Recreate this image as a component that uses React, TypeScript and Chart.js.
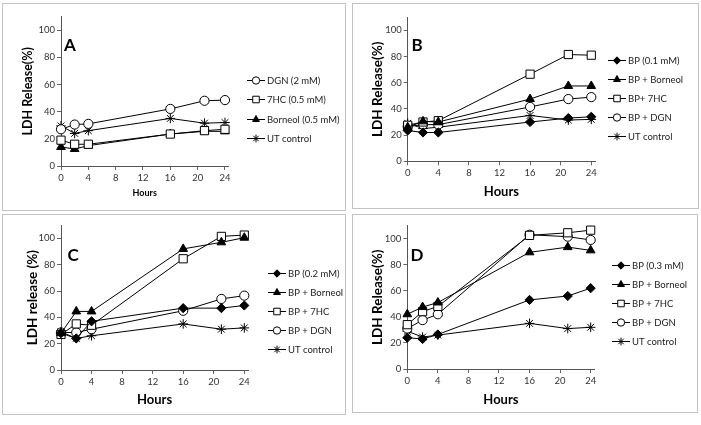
import React, { useEffect, useRef } from 'react';
import { Chart, registerables } from 'chart.js';
import { drawPoint } from 'chart.js/helpers';

Chart.register(...registerables);

const FONT = 'Lato, "Open Sans", sans-serif';

const hours = [0, 2, 4, 16, 21, 24];
const xTicks = [0, 4, 8, 12, 16, 20, 24];
const yTicks = [0, 20, 40, 60, 80, 100];

// Panel A
const aLabels = ['DGN (2 mM)', '7HC (0.5 mM)', 'Borneol (0.5 mM)', 'UT control'];
const aDGN = [27, 30.5, 31, 42, 48, 48.5];
const a7HC = [19, 16, 16, 23.5, 26, 27];
const aBorneol = [14, 12.5, 15, 23.5, 25.5, 25.5];
const aUT = [29.5, 24, 26, 35, 31.5, 32];

// Panel B
const bLabels = ['BP (0.1 mM)', 'BP + Borneol', 'BP+ 7HC', 'BP + DGN', 'UT control'];
const bBP = [23.5, 22, 22, 30, 33, 34];
const bBorneol = [26, 30.5, 30, 47.5, 57.5, 57.5];
const b7HC = [27.5, 30, 31, 66.5, 81.5, 81];
const bDGN = [26.5, 28, 28, 41.5, 47.5, 49];
const bUT = [29, 25, 26, 35, 31.5, 32];

// Panel C
const cLabels = ['BP (0.2 mM)', 'BP + Borneol', 'BP + 7HC', 'BP + DGN', 'UT control'];
const cBP = [28, 24, 37, 47, 47, 49];
const cBorneol = [28, 44.5, 44.5, 92, 97, 100.5];
const c7HC = [27, 35, 34, 84.5, 101.5, 102.5];
const cDGN = [28.5, 28.5, 31, 45, 54, 56.5];
const cUT = [29, 24, 26, 35, 31, 32];

// Panel D
const dLabels = ['BP (0.3 mM)', 'BP + Borneol', 'BP + 7HC', 'BP + DGN', 'UT control'];
const dBP = [24, 23, 26.5, 53, 56, 62];
const dBorneol = [42, 47.5, 51, 89.5, 93.5, 91];
const d7HC = [34, 44, 48, 102.5, 104.5, 106.5];
const dDGN = [31, 37.5, 42, 103, 101.5, 99];
const dUT = [29, 24.5, 26, 35, 31, 32];

type Marker = 'diamond' | 'triangle' | 'square' | 'circle' | 'star';

const markerStyle: Record<Marker, any> = {
  diamond: { pointStyle: 'rectRot', pointRadius: 4.6, bg: '#000' },
  triangle: { pointStyle: 'triangle', pointRadius: 5, bg: '#000' },
  square: { pointStyle: 'rect', pointRadius: 5.8, bg: '#fff' },
  circle: { pointStyle: 'circle', pointRadius: 4.6, bg: '#fff' },
  star: { pointStyle: 'star', pointRadius: 4.8, bg: '#000' },
};

interface PanelCfg {
  box: number[];
  area: number[];
  letter: string;
  letterPos: number[];
  yTitle: string;
  yTitleX: number;
  yTitleSize: number;
  xTitleY: number;
  xTitleSize: number;
  legendX: number;
  legendY0: number;
  legendStep: number;
  labels: string[];
  markers: Marker[];
  series: number[][];
}

const panels: PanelCfg[] = [
  {
    box: [3, 4, 345, 210], area: [61, 16.5, 228.4, 166], letter: 'A', letterPos: [70, 46],
    yTitle: 'LDH Release(%)', yTitleX: 28, yTitleSize: 12.5, xTitleY: 193, xTitleSize: 9,
    legendX: 247, legendY0: 80, legendStep: 19.3, labels: aLabels,
    markers: ['circle', 'square', 'triangle', 'star'], series: [aDGN, a7HC, aBorneol, aUT],
  },
  {
    box: [353, 4, 698, 208], area: [407.7, 17.2, 595.1, 161.3], letter: 'B', letterPos: [417, 46],
    yTitle: 'LDH Release(%)', yTitleX: 378, yTitleSize: 13.5, xTitleY: 191.7, xTitleSize: 13,
    legendX: 608, legendY0: 60.3, legendStep: 19, labels: bLabels,
    markers: ['diamond', 'triangle', 'square', 'circle', 'star'], series: [bBP, bBorneol, b7HC, bDGN, bUT],
  },
  {
    box: [3, 215, 345, 414], area: [61, 225.2, 248.1, 370], letter: 'C', letterPos: [73, 255.3],
    yTitle: 'LDH release (%)', yTitleX: 33, yTitleSize: 13.5, xTitleY: 399.7, xTitleSize: 13,
    legendX: 268, legendY0: 272.7, legendStep: 19, labels: cLabels,
    markers: ['diamond', 'triangle', 'square', 'circle', 'star'], series: [cBP, cBorneol, c7HC, cDGN, cUT],
  },
  {
    box: [353, 215, 697, 412], area: [407.3, 225.6, 594.5, 369], letter: 'D', letterPos: [417, 255.3],
    yTitle: 'LDH Release(%)', yTitleX: 378, yTitleSize: 13.5, xTitleY: 399.7, xTitleSize: 13,
    legendX: 612, legendY0: 265, legendStep: 18.9, labels: dLabels,
    markers: ['diamond', 'triangle', 'square', 'circle', 'star'], series: [dBP, dBorneol, d7HC, dDGN, dUT],
  },
];

function Panel({ cfg }: { cfg: PanelCfg }) {
  const ref = useRef<HTMLCanvasElement>(null);
  const [bl, bt, br, bb] = cfg.box;
  const [al, at, ar, ab] = cfg.area;
  const W = br - bl;
  const H = bb - bt;

  useEffect(() => {
    const datasets = cfg.series.map((vals, i) => {
      const m = markerStyle[cfg.markers[i]];
      return {
        label: cfg.labels[i],
        data: hours.map((h, j) => ({ x: h, y: vals[j] })),
        showLine: true,
        clip: false,
        borderColor: '#000',
        borderWidth: 1,
        pointStyle: m.pointStyle,
        pointRadius: m.pointRadius,
        pointBackgroundColor: m.bg,
        pointBorderColor: '#000',
        pointBorderWidth: 1,
        tension: 0,
      };
    });

    const xLH = cfg.xTitleSize * 1.2;
    const yLH = cfg.yTitleSize * 1.2;

    const decor = {
      id: 'decor',
      afterDraw(chart: any) {
        const ctx = chart.ctx;
        ctx.save();
        ctx.fillStyle = '#000';
        ctx.font = `bold 17px ${FONT}`;
        ctx.textAlign = 'center';
        ctx.textBaseline = 'middle';
        ctx.fillText(cfg.letter, cfg.letterPos[0] - bl, cfg.letterPos[1] - bt);
        chart.data.datasets.forEach((ds: any, i: number) => {
          const y = Math.round(cfg.legendY0 + i * cfg.legendStep - bt) + 0.5;
          const x0 = cfg.legendX - bl;
          ctx.strokeStyle = '#000';
          ctx.lineWidth = 1;
          ctx.beginPath();
          ctx.moveTo(x0, y);
          ctx.lineTo(x0 + 18, y);
          ctx.stroke();
          ctx.fillStyle = ds.pointBackgroundColor;
          ctx.strokeStyle = '#000';
          drawPoint(ctx, { pointStyle: ds.pointStyle, radius: ds.pointRadius * 0.8, borderWidth: 1, rotation: 0 } as any, x0 + 9, y);
          ctx.fillStyle = '#222';
          ctx.font = `9.5px ${FONT}`;
          ctx.textAlign = 'left';
          ctx.textBaseline = 'middle';
          ctx.fillText(ds.label, x0 + 20, y);
        });
        ctx.restore();
      },
    };

    const tickFont = { family: FONT, size: 9.5 };

    const chart = new Chart(ref.current!, {
      type: 'scatter',
      data: { datasets: datasets as any },
      options: {
        responsive: false,
        animation: false,
        devicePixelRatio: 1,
        layout: { padding: { left: 0, top: at - bt, right: br - ar, bottom: 0 } },
        plugins: { legend: { display: false }, tooltip: { enabled: false } },
        scales: {
          x: {
            type: 'linear',
            min: 0,
            max: 24.5,
            afterBuildTicks: (s: any) => { s.ticks = xTicks.map((v) => ({ value: v })); },
            afterFit: (s: any) => { s.height = bb - ab; },
            grid: { drawOnChartArea: false, drawTicks: true, tickLength: 4, color: '#666' },
            border: { color: '#555', width: 1 },
            ticks: { padding: 2, color: '#333', font: tickFont, maxRotation: 0, autoSkip: false },
            title: {
              display: true, text: 'Hours', color: '#000',
              font: { family: FONT, size: cfg.xTitleSize, weight: 'bold' },
              padding: { top: 0, bottom: (bb - cfg.xTitleY) - xLH / 2 },
            },
          },
          y: {
            type: 'linear',
            min: 0,
            max: 110,
            afterBuildTicks: (s: any) => { s.ticks = yTicks.map((v) => ({ value: v })); },
            afterFit: (s: any) => { s.width = al - bl; },
            grid: { drawOnChartArea: false, drawTicks: true, tickLength: 4, color: '#666' },
            border: { color: '#555', width: 1 },
            ticks: { padding: 2, color: '#333', font: tickFont, autoSkip: false },
            title: {
              display: true, text: cfg.yTitle, color: '#000',
              font: { family: FONT, size: cfg.yTitleSize, weight: 'bold' },
              padding: { top: (cfg.yTitleX - bl) - yLH / 2, bottom: 0 },
            },
          },
        },
      } as any,
      plugins: [decor],
    });
    return () => chart.destroy();
  }, []);

  return (
    <>
      <canvas
        ref={ref}
        width={W}
        height={H}
        style={{ position: 'absolute', left: bl, top: bt, width: W, height: H }}
      />
      <div
        style={{
          position: 'absolute', left: bl - 1, top: bt - 1, width: W, height: H,
          border: '1px solid #c4c4c4', pointerEvents: 'none',
        }}
      />
    </>
  );
}

export default function App() {
  return (
    <div style={{ position: 'absolute', left: 0, top: 0, width: 701, height: 425, background: '#fff', overflow: 'hidden' }}>
      {panels.map((p, i) => (
        <Panel key={i} cfg={p} />
      ))}
    </div>
  );
}
